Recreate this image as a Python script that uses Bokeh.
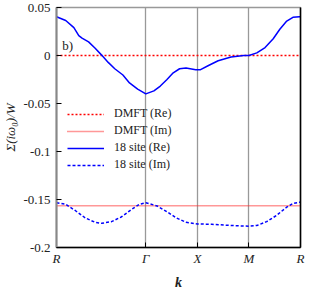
from bokeh.plotting import figure
from bokeh.models import (Range1d, FixedTicker, LinearAxis, Legend, LegendItem, Label)
from bokeh.embed import file_html
from bokeh.resources import INLINE

# Path R -> Gamma -> X -> M -> R (segment lengths sqrt3, 1, 1, 1)
k_ticks = [0.0, 1.732, 2.732, 3.732, 4.732]
k_labels = ["R", "Γ", "X", "M", "R"]

y_ticks = [0.05, 0.0, -0.05, -0.1, -0.15, -0.2]
y_labels = ["0.05", "0", "-0.05", "-0.1", "-0.15", "-0.2"]

dmft_re = 0.0
dmft_im = -0.1565

k_re = [0.0, 0.179, 0.337, 0.432, 0.495, 0.622, 0.750, 0.875, 1.003, 1.130,
        1.288, 1.416, 1.574, 1.732, 1.889, 2.013, 2.138, 2.264, 2.387, 2.512,
        2.700, 2.794, 2.948, 3.135, 3.385, 3.633, 3.732, 3.885, 4.045, 4.203,
        4.331, 4.457, 4.585, 4.713, 4.732]
site18_re = [0.0404, 0.0365, 0.0290, 0.0207, 0.0181, 0.0142, 0.0076, 0.0004, -0.0072, -0.0138,
             -0.0203, -0.0286, -0.0351, -0.0400, -0.0368, -0.0318, -0.0253, -0.0180, -0.0138, -0.0131,
             -0.0148, -0.0148, -0.0104, -0.0055, -0.0016, -0.0001, 0.0000, 0.0027, 0.0083, 0.0175,
             0.0273, 0.0355, 0.0398, 0.0404, 0.0404]

k_im = [0.0, 0.179, 0.369, 0.559, 0.750, 0.875, 1.066, 1.256, 1.447, 1.607,
        1.732, 1.951, 2.138, 2.326, 2.512, 2.732, 3.012, 3.385, 3.732, 3.885,
        4.076, 4.267, 4.457, 4.585, 4.713, 4.732]
site18_im = [-0.1534, -0.1550, -0.1617, -0.1692, -0.1738, -0.1748, -0.1731, -0.1682, -0.1607, -0.1550,
             -0.1534, -0.1567, -0.1626, -0.1692, -0.1738, -0.1755, -0.1758, -0.1771, -0.1778, -0.1771,
             -0.1731, -0.1666, -0.1583, -0.1541, -0.1528, -0.1528]

FONT = "Liberation Serif"

p = figure(width=306, height=292, output_backend="svg", toolbar_location=None,
           x_range=Range1d(k_ticks[0], k_ticks[-1]), y_range=Range1d(y_ticks[-1], y_ticks[0]),
           min_border_left=49, min_border_right=6, min_border_top=7, min_border_bottom=41)
p.background_fill_color = "white"
p.border_fill_color = "white"
p.outline_line_color = "#999999"
p.outline_line_width = 1.5
p.ygrid.grid_line_color = None
p.xgrid.grid_line_color = "#999999"
p.xgrid.grid_line_width = 1.3

# axes
xa = p.xaxis[0]
xa.ticker = FixedTicker(ticks=k_ticks)
xa.major_label_overrides = {t: l for t, l in zip(k_ticks, k_labels)}
xa.major_label_text_font = FONT
xa.major_label_text_font_style = "italic"
xa.major_label_text_font_size = "13px"
xa.major_label_text_color = "#222222"
xa.major_label_standoff = 3
xa.major_tick_in = 5
xa.major_tick_out = 0
xa.minor_tick_line_color = None
xa.axis_line_color = "black"
xa.axis_line_width = 1.5
xa.axis_label = "k"
xa.axis_label_text_font = FONT
xa.axis_label_text_font_style = "bold italic"
xa.axis_label_text_font_size = "14px"
xa.axis_label_text_color = "#222222"
xa.axis_label_standoff = 6

ya = p.yaxis[0]
ya.ticker = FixedTicker(ticks=y_ticks)
ya.major_label_overrides = {t: l for t, l in zip(y_ticks, y_labels)}
ya.major_label_text_font = FONT
ya.major_label_text_font_size = "13px"
ya.major_label_text_color = "#222222"
ya.major_label_standoff = 6
ya.major_tick_in = 5
ya.major_tick_out = 0
ya.minor_tick_line_color = None
ya.axis_line_color = "#888888"
ya.axis_line_width = 2
ya.axis_label = "Σ(iω₀)/W"
ya.axis_label_text_font = FONT
ya.axis_label_text_font_style = "italic"
ya.axis_label_text_font_size = "13px"
ya.axis_label_text_color = "#222222"
ya.axis_label_standoff = 2

# right frame edge in black (no ticks / labels)
ra = LinearAxis(ticker=FixedTicker(ticks=[]), major_tick_in=0, major_tick_out=0,
                minor_tick_line_color=None, axis_line_color="black", axis_line_width=1.5)
p.add_layout(ra, "right")

# data
r1 = p.line([k_ticks[0], k_ticks[-1]], [dmft_re, dmft_re], line_color="red", line_width=1.5, line_dash="2 2")
r2 = p.line([k_ticks[0], k_ticks[-1]], [dmft_im, dmft_im], line_color="#ff3030", line_width=1.3, line_dash="1 1")
r3 = p.line(k_re, site18_re, line_color="blue", line_width=1.5)
r4 = p.line(k_im, site18_im, line_color="blue", line_width=1.5, line_dash="3 2")

legend = Legend(items=[LegendItem(label="DMFT (Re)", renderers=[r1]),
                       LegendItem(label="DMFT (Im)", renderers=[r2]),
                       LegendItem(label="18 site (Re)", renderers=[r3]),
                       LegendItem(label="18 site (Im)", renderers=[r4])],
                location=(11, 75), border_line_color=None, background_fill_alpha=0,
                padding=0, margin=0, spacing=2, glyph_width=37, glyph_height=14,
                label_height=14, label_standoff=10, label_text_font=FONT,
                label_text_font_size="12px", label_text_color="#222222")
p.add_layout(legend)

p.add_layout(Label(x=0.11, y=0.01, text="b)", text_font=FONT, text_font_size="13px",
                   text_color="#222222", text_baseline="middle"))

open("out.html", "w").write(file_html(p, INLINE))
